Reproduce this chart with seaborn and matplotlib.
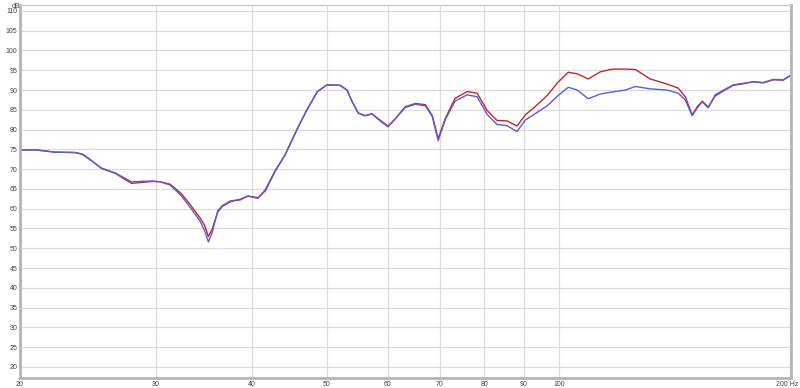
import matplotlib
matplotlib.use("Agg")
import matplotlib.pyplot as plt
import matplotlib.transforms as mtransforms
import seaborn as sns
import pandas as pd
from matplotlib.ticker import FixedLocator, NullLocator, FixedFormatter

freq = [20.0, 20.9, 22.2, 23.6, 24.1, 24.6, 25.5, 26.6, 27.9, 28.6, 29.7, 30.4,
        31.3, 32.3, 33.2, 34.2, 34.7, 35.1, 35.5, 36.1, 36.6, 37.5, 38.6, 39.5,
        40.7, 41.6, 42.8, 44.1, 45.7, 47.1, 48.6, 50.0, 52.0, 53.1, 53.9, 54.9,
        56.0, 57.2, 58.6, 60.0, 61.3, 63.2, 65.1, 67.1, 68.5, 69.7, 71.2, 73.3,
        76.0, 78.3, 80.7, 83.1, 85.6, 88.2, 90.4, 93.1, 96.5, 99.7, 102.8, 105.6,
        109.1, 113.1, 117.2, 121.9, 125.6, 131.3, 138.1, 142.7, 145.8, 148.8,
        151.1, 153.4, 156.1, 159.4, 162.8, 168.2, 173.4, 178.6, 184.0, 189.6,
        195.3, 200.0]

blue_db = [74.8, 74.9, 74.3, 74.2, 73.7, 72.5, 70.3, 69.0, 66.8, 66.9, 67.0, 66.8,
           66.0, 63.5, 60.5, 57.0, 54.5, 51.6, 54.0, 59.5, 60.8, 62.0, 62.2, 63.2,
           62.6, 64.8, 69.5, 73.5, 79.9, 85.0, 89.6, 91.3, 91.2, 90.0, 87.1, 84.2,
           83.5, 84.0, 82.2, 80.7, 82.7, 85.6, 86.4, 86.0, 83.3, 77.2, 82.5, 87.2,
           88.8, 88.3, 83.8, 81.3, 81.0, 79.5, 82.4, 84.0, 86.0, 88.6, 90.7, 90.0,
           87.8, 89.0, 89.5, 90.0, 90.9, 90.3, 90.0, 89.2, 87.5, 83.5, 85.5, 87.0,
           85.5, 88.8, 89.8, 91.3, 91.7, 92.1, 91.9, 92.7, 92.6, 93.8]

red_db = [74.8, 74.9, 74.3, 74.2, 73.8, 72.6, 70.2, 68.9, 66.4, 66.6, 66.9, 66.8,
          66.2, 64.0, 61.2, 57.8, 55.8, 53.0, 54.8, 59.2, 60.6, 61.8, 62.4, 63.2,
          62.8, 64.5, 69.3, 73.5, 79.9, 85.0, 89.6, 91.3, 91.2, 90.0, 87.1, 84.2,
          83.5, 84.0, 82.4, 80.9, 82.7, 85.8, 86.6, 86.3, 83.5, 77.7, 82.8, 87.9,
          89.6, 89.2, 84.8, 82.3, 82.2, 80.9, 83.7, 85.8, 88.6, 92.0, 94.5, 94.1,
          92.8, 94.6, 95.3, 95.3, 95.2, 92.8, 91.5, 90.5, 88.3, 83.7, 85.8, 87.2,
          85.7, 88.5, 89.6, 91.2, 91.6, 92.1, 91.8, 92.6, 92.5, 93.8]

x_ticks = [20, 30, 40, 50, 60, 70, 80, 90, 100, 200]
x_labels = ["20", "30", "40", "50", "60", "70", "80", "90", "100", "200 Hz"]
y_ticks = list(range(20, 111, 5))

df = pd.concat([
    pd.DataFrame({"freq": freq, "db": red_db, "series": "red"}),
    pd.DataFrame({"freq": freq, "db": blue_db, "series": "blue"}),
])

sns.set_style("white")
plt.rcParams["font.family"] = ["Liberation Sans", "DejaVu Sans"]

fig = plt.figure(figsize=(8.0, 3.88), dpi=100)
ax = fig.add_axes([0.025, 0.0258, 0.964, 0.9613])

sns.lineplot(data=df, x="freq", y="db", hue="series",
             palette={"red": "#c0272d", "blue": "#5b5bd6"},
             linewidth=1.0, legend=False, ax=ax, sort=False)

ax.set_xscale("log")
ax.set_xlim(20, 200)
ax.set_ylim(17.2, 111.5)
ax.xaxis.set_major_locator(FixedLocator(x_ticks))
ax.xaxis.set_major_formatter(FixedFormatter(x_labels))
ax.xaxis.set_minor_locator(NullLocator())
ax.set_yticks(y_ticks)
ax.set_yticklabels([str(v) for v in y_ticks])

ax.grid(True, which="major", color="#dcdcdc", linewidth=0.9)
ax.set_axisbelow(True)
ax.tick_params(axis="both", length=0, labelsize=5, labelcolor="#444444", pad=2)
ax.set_xlabel("")
ax.set_ylabel("")

# keep the last x label inside the figure
last = ax.get_xticklabels()[-1]
last.set_horizontalalignment("right")
last.set_transform(last.get_transform() +
                   mtransforms.ScaledTranslation(7 / 100, 0, fig.dpi_scale_trans))

for side in ["top"]:
    ax.spines[side].set_color("#c8c8c8")
    ax.spines[side].set_linewidth(1.0)
for side in ["left", "bottom", "right"]:
    ax.spines[side].set_color("#b4b4b4")
    ax.spines[side].set_linewidth(2.0)

fig.text(0.015, 0.993, "dB", fontsize=5, color="#444444", ha="left", va="top")

fig.savefig("out.png", dpi=100)
